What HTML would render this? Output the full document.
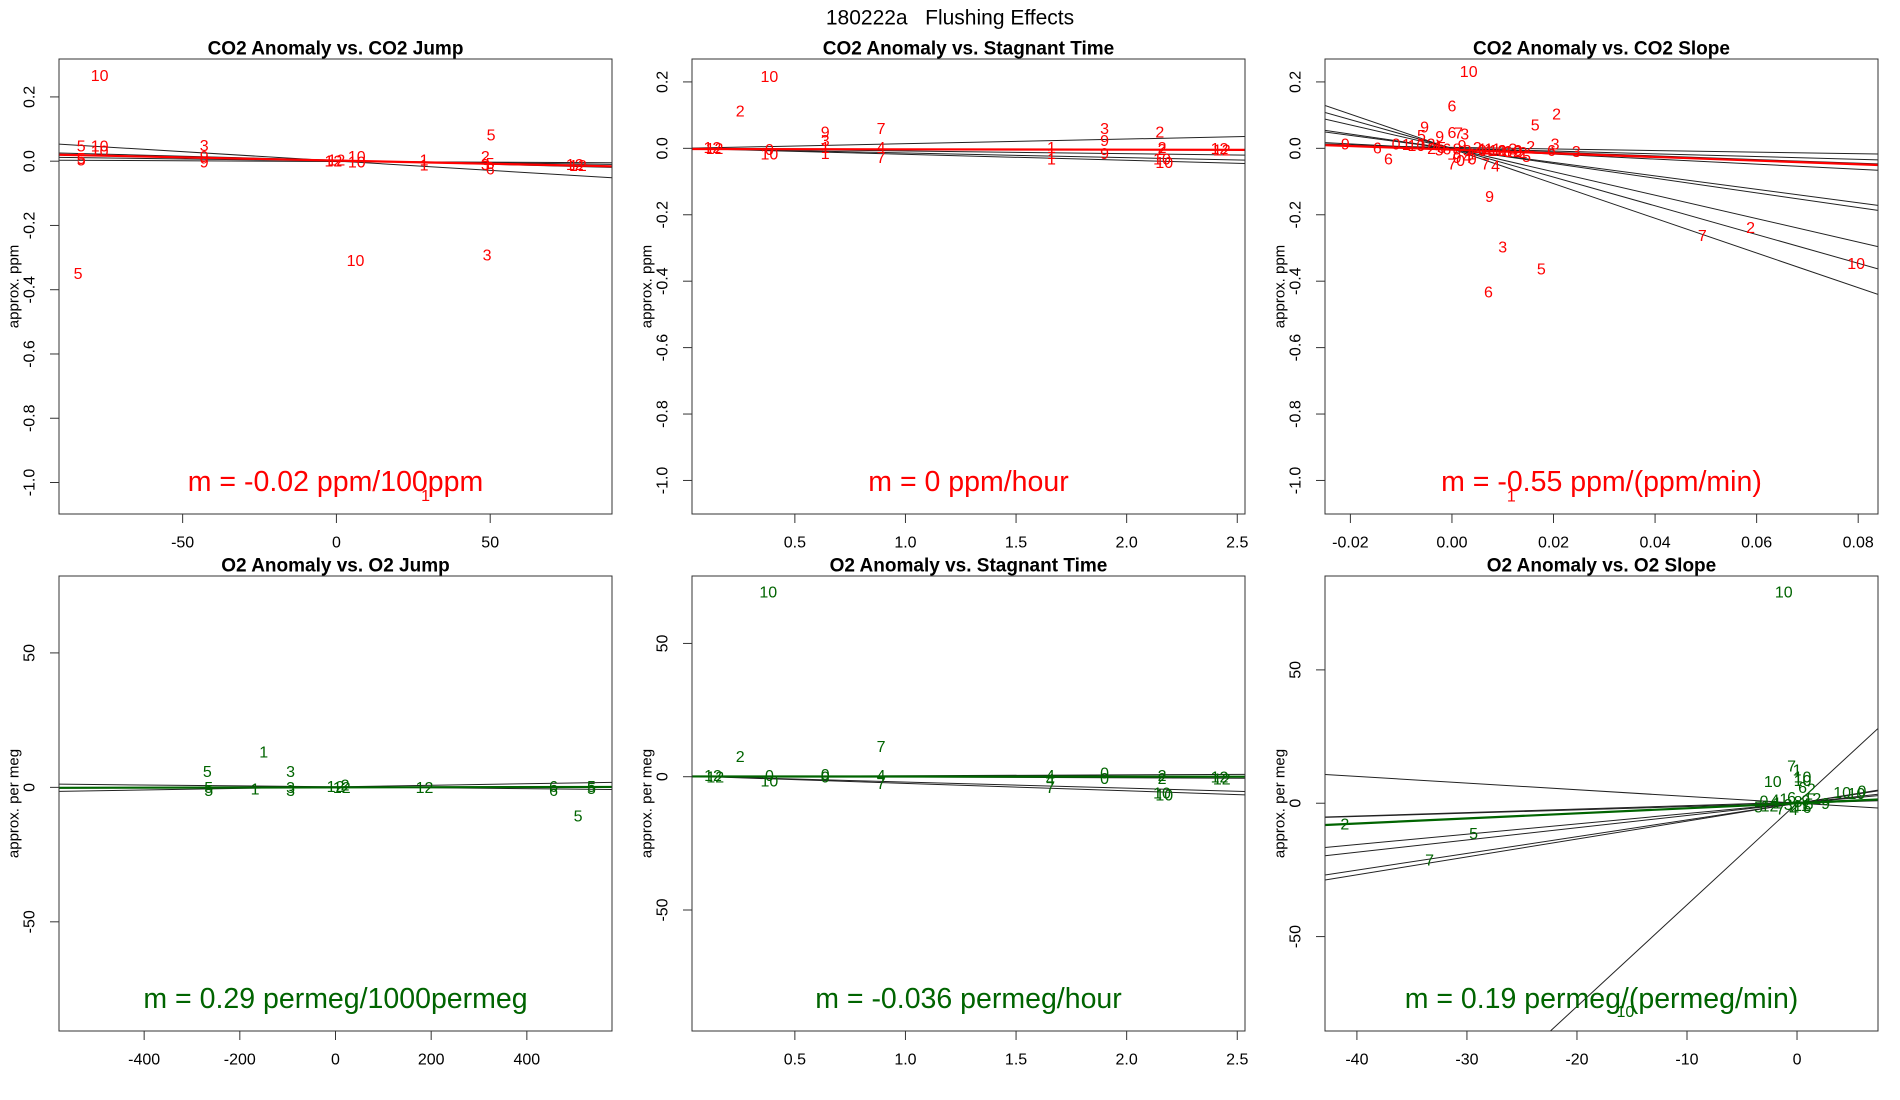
<!DOCTYPE html>
<html><head><meta charset="utf-8"><title>180222a Flushing Effects</title>
<style>
html,body{margin:0;padding:0;background:#fff;width:1900px;height:1100px;overflow:hidden;position:relative;}
svg{display:block;position:absolute;left:0;top:0;font-family:"Liberation Sans",Arial,sans-serif;}
</style></head>
<body>
<svg id="fig" width="1900" height="1100" viewBox="0 0 1900 1100" overflow="hidden" xmlns="http://www.w3.org/2000/svg">
<rect x="0" y="0" width="1900" height="1100" fill="#fff"/>
<text x="950" y="18" font-size="21" text-anchor="middle" dominant-baseline="central" style="white-space:pre" xml:space="preserve">180222a   Flushing Effects</text>
</svg>
<script>
// ---------- Panel 1: CO2 Anomaly vs CO2 Jump ----------
const p1Labels = ["10","5","10","10","5","5","3","9","9","12","12","10","10","1","1","5","2","3","5","6","12","12","10","3","5","1"];
const p1X = [-77,-83,-77,-77,-83,-83,-43,-43,-43,0,-1,6.6,6.6,28.5,28.5,50.3,48.4,48.4,50,50,77.5,78.5,6.2,49,-84,29];
const p1Y = [0.263,0.044,0.044,0.029,0.0,0.005,0.045,0.012,-0.005,0.0,-0.003,0.012,-0.005,0.0,-0.015,0.078,0.012,-0.013,-0.01,-0.027,-0.013,-0.016,-0.312,-0.295,-0.352,-1.043];
const p1LineSlope = [-0.000583,-0.000194,-0.000044,-0.00025,-0.00012];
const p1LineIntercept = [0.0005,0.0025,-0.001,0.003,0.001];
const p1FitSlope = -0.0002, p1FitIntercept = 0.002;
const p1XTicks = [-50,0,50];
const p1YTicks = [0.2,0.0,-0.2,-0.4,-0.6,-0.8,-1.0];
const p1YTickLabels = ["0.2","0.0","-0.2","-0.4","-0.6","-0.8","-1.0"];

// ---------- Panel 2: CO2 Anomaly vs Stagnant Time ----------
const p2Labels = ["10","2","12","12","0","10","9","3","1","1","7","4","7","1","1","1","3","9","2","9","2","2","10","10","12","12"];
const p2X = [0.385,0.253,0.127,0.137,0.385,0.385,0.637,0.637,0.637,0.637,0.89,0.89,0.89,1.66,1.66,1.66,1.9,1.9,2.15,1.9,2.16,2.16,2.16,2.17,2.42,2.43];
const p2Y = [0.214,0.11,0.0,-0.003,-0.007,-0.02,0.046,0.02,0.0,-0.018,0.057,0.0,-0.03,0.0,-0.018,-0.035,0.057,0.02,0.046,-0.018,0.0,-0.006,-0.035,-0.045,-0.003,-0.008];
const p2LineSlope = [0.014,-0.018,-0.014,-0.008];
const p2LineIntercept = [0.0,0.0,0.0,0.0];
const p2FitSlope = -0.001, p2FitIntercept = -0.002;
const p2XTicks = [0.5,1.0,1.5,2.0,2.5];
const p2XTickLabels = ["0.5","1.0","1.5","2.0","2.5"];
const p2YTicks = [0.2,0.0,-0.2,-0.4,-0.6,-0.8,-1.0];
const p2YTickLabels = ["0.2","0.0","-0.2","-0.4","-0.6","-0.8","-1.0"];

// ---------- Panel 3: CO2 Anomaly vs CO2 Slope ----------
const p3Labels = ["10","6","2","5","9","9","6","7","3","5","9","6","6","3","6","3","2","5","7","0","0","7","4","9","3","5","6","7","2","10","1",
 "0","1","10","12","2","4","5","6","7","8","9","3","1","2","0","4","11","12","1","6","3","0","2","4","9","5","1","10","12"];
const p3X = [0.0033,0.0,0.0206,0.0164,-0.0054,-0.0024,0.0,0.0013,0.0025,-0.006,-0.021,-0.0147,-0.0125,0.0203,0.0196,0.0245,0.0155,0.0147,0.0,0.0017,0.004,0.0066,0.0086,0.0074,0.01,0.0176,0.0072,0.0493,0.0588,0.0796,0.0117,
 -0.011,-0.009,-0.007,-0.005,-0.004,-0.003,-0.002,-0.001,0.0005,0.001,0.002,0.003,0.004,0.005,0.006,0.007,0.008,0.009,0.010,0.011,0.012,0.013,0.014,0.003,0.001,-0.0025,0.006,0.009,0.012];
const p3Y = [0.229,0.124,0.101,0.068,0.061,0.033,0.045,0.043,0.04,0.035,0.01,-0.002,-0.035,0.01,-0.01,-0.013,0.002,-0.027,-0.05,-0.04,-0.035,-0.05,-0.056,-0.148,-0.3,-0.366,-0.436,-0.265,-0.242,-0.35,-1.05,
 0.01,0.008,0.005,0.01,-0.003,0.002,0.0,-0.005,-0.02,-0.005,0.005,-0.01,-0.02,0.0,-0.01,-0.01,-0.005,-0.01,-0.01,-0.012,-0.005,-0.01,-0.015,-0.03,-0.03,-0.008,-0.005,-0.01,-0.012];
const p3LineSlope = [-5.225,-4.325,-3.526,-2.213,-2.029,-0.762,-0.55,-0.413,-0.239];
const p3LineIntercept = [-0.0016,0.0,0.0,-0.0013,-0.0017,-0.002,-0.0008,0.0,0.003];
const p3FitSlope = -0.55, p3FitIntercept = -0.004;
const p3XTicks = [-0.02,0.0,0.02,0.04,0.06,0.08];
const p3XTickLabels = ["-0.02","0.00","0.02","0.04","0.06","0.08"];
const p3YTicks = [0.2,0.0,-0.2,-0.4,-0.6,-0.8,-1.0];
const p3YTickLabels = ["0.2","0.0","-0.2","-0.4","-0.6","-0.8","-1.0"];

// ---------- Panel 4: O2 Anomaly vs O2 Jump ----------
const p4Labels = ["1","5","3","5","5","1","3","3","12","12","2","12","6","6","5","5","5"];
const p4X = [-150,-268,-94,-265,-265,-168,-94,-94,0,13,20,186,456,456,535,535,507];
const p4Y = [12.7,5.5,5.5,-0.5,-1.5,-1,-0.5,-1.5,0,-0.5,0.5,-0.5,0,-1.5,0,-0.8,-11];
const p4LineSlope = [-0.0017,0.0029,0.0005];
const p4LineIntercept = [0.2,0.2,0.0];
const p4FitSlope = 0.00029, p4FitIntercept = 0.0;
const p4XTicks = [-400,-200,0,200,400];
const p4YTicks = [50,0,-50];

// ---------- Panel 5: O2 Anomaly vs Stagnant Time ----------
const p5Labels = ["10","2","7","12","12","0","10","0","0","4","7","4","4","7","0","0","2","2","10","10","12","12"];
const p5X = [0.38,0.253,0.89,0.13,0.14,0.385,0.385,0.637,0.637,0.89,0.89,1.655,1.655,1.655,1.9,1.9,2.16,2.16,2.16,2.17,2.42,2.43];
const p5Y = [69,7.3,10.9,0,-0.5,0,-2,0.5,-0.5,0,-3,0,-1.5,-4.5,1,-1,0,-1,-6.5,-7.3,-0.5,-1.3];
const p5LineSlope = [-2.8,-2.3,0.35,-0.3];
const p5LineIntercept = [0.3,0.3,0.0,0.2];
const p5FitSlope = -0.036, p5FitIntercept = 0.1;
const p5XTicks = [0.5,1.0,1.5,2.0,2.5];
const p5XTickLabels = ["0.5","1.0","1.5","2.0","2.5"];
const p5YTicks = [50,0,-50];

// ---------- Panel 6: O2 Anomaly vs O2 Slope ----------
const p6Labels = ["10","2","5","7","10","7","1","10","10","10","6","2","10","10","0","9",
 "5","0","12","4","7","1","3","6","2","8","11","9","5","12","1","4","6"];
const p6X = [-1.2,-41.1,-29.4,-33.4,-15.6,-0.5,0.0,-2.2,0.5,0.5,0.5,1.3,4.1,5.4,5.9,2.6,
 -3.5,-3.0,-2.5,-2.0,-1.5,-1.2,-0.8,-0.5,-0.2,0.1,0.4,0.8,1.1,1.4,-1.8,-0.3,0.9];
const p6Y = [78.9,-8.1,-11.7,-21.6,-78.5,13.5,12,7.8,9.5,8.2,5.5,5,3.7,3.3,4.2,-0.4,
 -1.7,0.5,-1.5,0.8,-2.5,1.2,-0.8,1.8,-1.8,0.3,-1.2,0.6,-0.6,1.4,-0.2,-2.8,-2.0];
const p6LineSlope = [3.81,-0.25,0.124,0.387,0.459,0.627,0.671,0.13];
const p6LineIntercept = [0.0,0.05,0.0,0.0,0.0,0.0,0.0,0.4];
const p6FitSlope = 0.19, p6FitIntercept = 0.0;
const p6XTicks = [-40,-30,-20,-10,0];
const p6YTicks = [50,0,-50];

const SVGNS = "http://www.w3.org/2000/svg";
const svg = document.getElementById('fig');
function mk(tag, attrs, parent){
  const e = document.createElementNS(SVGNS, tag);
  for (const k in attrs) e.setAttribute(k, attrs[k]);
  (parent||svg).appendChild(e);
  return e;
}
function linScale(d0,d1,r0,r1){ return v => r0 + (v-d0)/(d1-d0)*(r1-r0); }

function drawPanel(p){
  const g = mk('g', {});
  
  
  const xs = linScale(p.xd[0], p.xd[1], p.bx0, p.bx1);
  const ys = linScale(p.yd[0], p.yd[1], p.by1, p.by0);
  const clipId = p.name + '-clip';
  const cp = mk('clipPath', {id: clipId}, g);
  mk('rect', {x:p.bx0, y:p.by0, width:p.bx1-p.bx0, height:p.by1-p.by0}, cp);

  const lg = mk('g', {'clip-path':'url(#'+clipId+')'}, g);
  for (let i=0;i<p.slopes.length;i++){
    const l = mk('line', {x1:xs(p.xd[0]), y1:ys(p.intercepts[i]+p.slopes[i]*p.xd[0]), x2:xs(p.xd[1]), y2:ys(p.intercepts[i]+p.slopes[i]*p.xd[1]), stroke:'#222', 'stroke-width':1}, lg);
    
    
  }
  const fl = mk('line', {x1:xs(p.xd[0]), y1:ys(p.fitB+p.fitM*p.xd[0]), x2:xs(p.xd[1]), y2:ys(p.fitB+p.fitM*p.xd[1]), stroke:p.color, 'stroke-width':2.2}, lg);
  
  

  for (let i=0;i<p.labels.length;i++){
    const t = mk('text', {x:xs(p.px[i]), y:ys(p.py[i]), 'font-size':16, fill:p.color, 'text-anchor':'middle', 'dominant-baseline':'central'}, lg);
    t.textContent = p.labels[i];
    
    
  }

  const m = mk('text', {x:(p.bx0+p.bx1)/2, y:p.by1-32, 'font-size':28.5, fill:p.color, 'text-anchor':'middle', 'dominant-baseline':'central'}, g);
  m.textContent = p.mtext;
  
  

  const box = mk('rect', {x:p.bx0, y:p.by0, width:p.bx1-p.bx0, height:p.by1-p.by0, fill:'none', stroke:'#333', 'stroke-width':1}, g);
  
  

  for (let i=0;i<p.xt.length;i++){
    const x = xs(p.xt[i]);
    const tk = mk('line', {x1:x, y1:p.by1, x2:x, y2:p.by1+9, stroke:'#333', 'stroke-width':1}, g);
    
    
    const tl = mk('text', {x:x, y:p.by1+29, 'font-size':16, 'text-anchor':'middle', 'dominant-baseline':'central'}, g);
    tl.textContent = p.xtl[i];
    
    
  }
  for (let i=0;i<p.yt.length;i++){
    const y = ys(p.yt[i]);
    const tk = mk('line', {x1:p.bx0-9, y1:y, x2:p.bx0, y2:y, stroke:'#333', 'stroke-width':1}, g);
    
    
    const lx = p.bx0-29;
    const tl = mk('text', {x:lx, y:y, 'font-size':16, 'text-anchor':'middle', 'dominant-baseline':'central', transform:'rotate(-90 '+lx+' '+y+')'}, g);
    tl.textContent = p.ytl[i];
    
    
  }
  const ax = p.bx0-45, ay = (p.by0+p.by1)/2;
  const yt = mk('text', {x:ax, y:ay, 'font-size':15, 'text-anchor':'middle', 'dominant-baseline':'central', transform:'rotate(-90 '+ax+' '+ay+')'}, g);
  yt.textContent = p.ylab;
  
  

  const tt = mk('text', {x:(p.bx0+p.bx1)/2, y:p.by0-10, 'font-size':19, 'font-weight':'bold', 'text-anchor':'middle', 'dominant-baseline':'central'}, g);
  tt.textContent = p.title;
  
  
}

const RED = '#ff0000', GREEN = '#006400';
const TOP0 = 59, TOP1 = 514, BOT0 = 576, BOT1 = 1031;

drawPanel({name:'panel-co2-jump', title:'CO2 Anomaly vs. CO2 Jump', ylab:'approx. ppm', color:RED,
  bx0:59, bx1:612, by0:TOP0, by1:TOP1, xd:[-90.2,89.6], yd:[-1.098,0.318],
  labels:p1Labels, px:p1X, py:p1Y, slopes:p1LineSlope, intercepts:p1LineIntercept, fitM:p1FitSlope, fitB:p1FitIntercept,
  xt:p1XTicks, xtl:p1XTicks.map(String), yt:p1YTicks, ytl:p1YTickLabels, mtext:'m = -0.02 ppm/100ppm'});

drawPanel({name:'panel-co2-stagnant', title:'CO2 Anomaly vs. Stagnant Time', ylab:'approx. ppm', color:RED,
  bx0:692, bx1:1245, by0:TOP0, by1:TOP1, xd:[0.035,2.535], yd:[-1.101,0.269],
  labels:p2Labels, px:p2X, py:p2Y, slopes:p2LineSlope, intercepts:p2LineIntercept, fitM:p2FitSlope, fitB:p2FitIntercept,
  xt:p2XTicks, xtl:p2XTickLabels, yt:p2YTicks, ytl:p2YTickLabels, mtext:'m = 0 ppm/hour'});

drawPanel({name:'panel-co2-slope', title:'CO2 Anomaly vs. CO2 Slope', ylab:'approx. ppm', color:RED,
  bx0:1325, bx1:1878, by0:TOP0, by1:TOP1, xd:[-0.025,0.0839], yd:[-1.101,0.269],
  labels:p3Labels, px:p3X, py:p3Y, slopes:p3LineSlope, intercepts:p3LineIntercept, fitM:p3FitSlope, fitB:p3FitIntercept,
  xt:p3XTicks, xtl:p3XTickLabels, yt:p3YTicks, ytl:p3YTickLabels, mtext:'m = -0.55 ppm/(ppm/min)'});

drawPanel({name:'panel-o2-jump', title:'O2 Anomaly vs. O2 Jump', ylab:'approx. per meg', color:GREEN,
  bx0:59, bx1:612, by0:BOT0, by1:BOT1, xd:[-578,578], yd:[-90.6,78.6],
  labels:p4Labels, px:p4X, py:p4Y, slopes:p4LineSlope, intercepts:p4LineIntercept, fitM:p4FitSlope, fitB:p4FitIntercept,
  xt:p4XTicks, xtl:p4XTicks.map(String), yt:p4YTicks, ytl:p4YTicks.map(String), mtext:'m = 0.29 permeg/1000permeg'});

drawPanel({name:'panel-o2-stagnant', title:'O2 Anomaly vs. Stagnant Time', ylab:'approx. per meg', color:GREEN,
  bx0:692, bx1:1245, by0:BOT0, by1:BOT1, xd:[0.035,2.535], yd:[-95.4,75.3],
  labels:p5Labels, px:p5X, py:p5Y, slopes:p5LineSlope, intercepts:p5LineIntercept, fitM:p5FitSlope, fitB:p5FitIntercept,
  xt:p5XTicks, xtl:p5XTickLabels, yt:p5YTicks, ytl:p5YTicks.map(String), mtext:'m = -0.036 permeg/hour'});

drawPanel({name:'panel-o2-slope', title:'O2 Anomaly vs. O2 Slope', ylab:'approx. per meg', color:GREEN,
  bx0:1325, bx1:1878, by0:BOT0, by1:BOT1, xd:[-42.9,7.36], yd:[-85.4,85.2],
  labels:p6Labels, px:p6X, py:p6Y, slopes:p6LineSlope, intercepts:p6LineIntercept, fitM:p6FitSlope, fitB:p6FitIntercept,
  xt:p6XTicks, xtl:p6XTicks.map(String), yt:p6YTicks, ytl:p6YTicks.map(String), mtext:'m = 0.19 permeg/(permeg/min)'});
</script>
</body></html>
